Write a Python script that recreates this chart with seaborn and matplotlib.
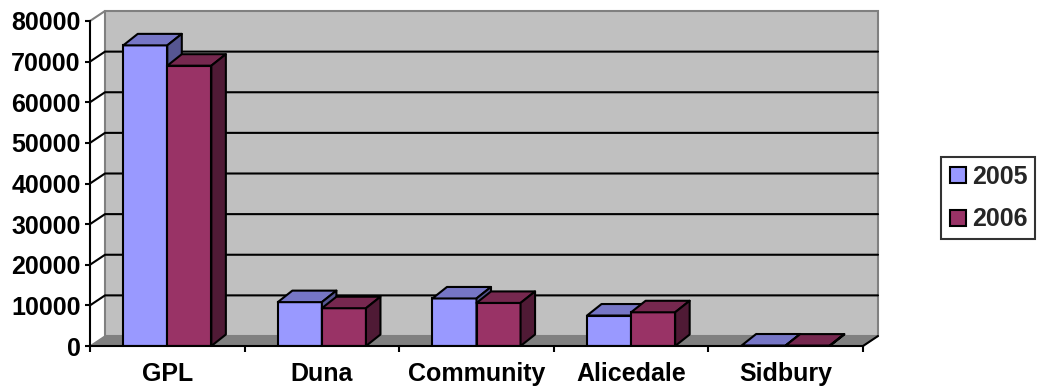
import numpy as np
import pandas as pd
import matplotlib
matplotlib.use("Agg")
import matplotlib.pyplot as plt
from matplotlib.patches import Polygon
from matplotlib.lines import Line2D
import seaborn as sns

# ---- data -------------------------------------------------------------
sites = ["GPL", "Duna", "Community", "Alicedale", "Sidbury"]
years = ["2005", "2006"]
visitors_2005 = [74000, 10800, 11700, 7500, 120]
visitors_2006 = [69000, 9300, 10600, 8300, 100]
y_ticks = [0, 10000, 20000, 30000, 40000, 50000, 60000, 70000, 80000]
y_tick_labels = ["0", "10000", "20000", "30000", "40000",
                 "50000", "60000", "70000", "80000"]

df = pd.DataFrame({
    "site": sites * 2,
    "year": [years[0]] * len(sites) + [years[1]] * len(sites),
    "visitors": visitors_2005 + visitors_2006,
})

# ---- style ------------------------------------------------------------
sns.set_theme(style="white")
plt.rcParams["font.family"] = ["Liberation Sans", "DejaVu Sans"]
plt.rcParams["font.weight"] = "bold"

front = {"2005": "#9999FF", "2006": "#993366"}
top = {"2005": "#7676C6", "2006": "#76284F"}
side = {"2005": "#565692", "2006": "#4F1A35"}
WALL = "#C0C0C0"
FLOOR = "#808080"
EDGE = "#808080"
FS = 18

W, H = 1040, 387
fig = plt.figure(figsize=(W / 100, H / 100), dpi=100)
ax = fig.add_axes([90 / W, 41 / H, 773 / W, 325 / H])

x_lo, x_hi = -0.5, len(sites) - 0.5
y_lo, y_hi = y_ticks[0], y_ticks[-1]
ax.set_xlim(x_lo, x_hi)
ax.set_ylim(y_lo, y_hi)

# oblique depth of the box (wall) and of the bars, in data units
px_x = (x_hi - x_lo) / 773.0
px_y = (y_hi - y_lo) / 325.0
WDX, WDY = 15 * px_x, 10 * px_y
BDX, BDY = 14.5 * px_x, 11.5 * px_y

# ---- box: side wall, back wall, floor --------------------------------
ax.add_patch(Polygon([(x_lo + WDX, y_lo + WDY), (x_hi + WDX, y_lo + WDY),
                      (x_hi + WDX, y_hi + WDY), (x_lo + WDX, y_hi + WDY)],
                     closed=True, facecolor=WALL, edgecolor=EDGE, lw=1.5,
                     clip_on=False, zorder=1))
ax.add_patch(Polygon([(x_lo, y_lo), (x_hi, y_lo),
                      (x_hi + WDX, y_lo + WDY), (x_lo + WDX, y_lo + WDY)],
                     closed=True, facecolor=FLOOR, edgecolor=FLOOR, lw=1,
                     clip_on=False, zorder=1.5))
ax.plot([x_lo, x_lo + WDX], [y_hi, y_hi + WDY], color=EDGE, lw=1.5,
        clip_on=False, zorder=1.6)
ax.plot([x_hi, x_hi + WDX], [y_lo, y_lo + WDY], color="black", lw=1.5,
        clip_on=False, zorder=1.6)

# gridlines on the side wall and the back wall
for v in y_ticks[1:-1]:
    ax.plot([x_lo, x_lo + WDX, x_hi + WDX], [v, v + WDY, v + WDY],
            color="black", lw=1.5, clip_on=False, zorder=1.7)

# ---- bars: front faces via seaborn -----------------------------------
sns.barplot(data=df, x="site", y="visitors", hue="year", order=sites,
            hue_order=years, palette=front, saturation=1, width=0.57,
            edgecolor="black", linewidth=1.5, legend=False, ax=ax)

bars = list(ax.patches[2:])  # skip wall and floor patches
for p in bars:
    x0 = p.get_x()
    x1 = x0 + p.get_width()
    h = p.get_height()
    centre = (x0 + x1) / 2
    year = years[0] if centre < round(centre) else years[1]
    z = 3 if year == years[0] else 4
    p.set_zorder(z)
    ax.add_patch(Polygon([(x0, h), (x1, h), (x1 + BDX, h + BDY), (x0 + BDX, h + BDY)],
                         closed=True, facecolor=top[year], edgecolor="black",
                         lw=1.5, joinstyle="round", clip_on=False, zorder=z))
    ax.add_patch(Polygon([(x1, 0), (x1, h), (x1 + BDX, h + BDY), (x1 + BDX, BDY)],
                         closed=True, facecolor=side[year], edgecolor="black",
                         lw=1.5, joinstyle="round", clip_on=False, zorder=z))

# ---- axes ------------------------------------------------------------
for s in ("top", "right"):
    ax.spines[s].set_visible(False)
for s in ("left", "bottom"):
    ax.spines[s].set_color("black")
    ax.spines[s].set_linewidth(1.5)
    ax.spines[s].set_zorder(5)

ax.set_yticks(y_ticks, y_tick_labels)
ax.tick_params(axis="y", direction="out", length=3.6, width=1.5,
               pad=3.2, labelsize=FS, colors="black", left=True)
ax.set_xticks(range(len(sites)), sites)
ax.set_xticks(np.arange(x_lo, x_hi + 0.01, 1.0), minor=True)
ax.tick_params(axis="x", which="major", length=0, pad=11.5, labelsize=FS,
               colors="black")
ax.tick_params(axis="x", which="minor", direction="out", length=4.5,
               width=1.5, color="black", bottom=True)
for lab in ax.get_xticklabels() + ax.get_yticklabels():
    lab.set_fontweight("bold")
ax.set_xlabel("")
ax.set_ylabel("")
ax.grid(False)
ax.set_facecolor("none")

# ---- legend ------------------------------------------------------------
handles = [Line2D([], [], linestyle="none", marker="s", markersize=11,
                  markerfacecolor=front[y], markeredgecolor="black",
                  markeredgewidth=1.5) for y in years]
leg = fig.legend(handles, years, loc="center",
                 bbox_to_anchor=(988 / W, 1 - 198 / H),
                 bbox_transform=fig.transFigure, frameon=True, fancybox=False,
                 prop={"size": FS, "weight": "bold"}, handlelength=0.75,
                 handletextpad=0.2, labelspacing=0.75, borderpad=0.3,
                 borderaxespad=0)
leg.get_frame().set_edgecolor("black")
leg.get_frame().set_linewidth(1.5)

fig.savefig("out.png", dpi=100)
